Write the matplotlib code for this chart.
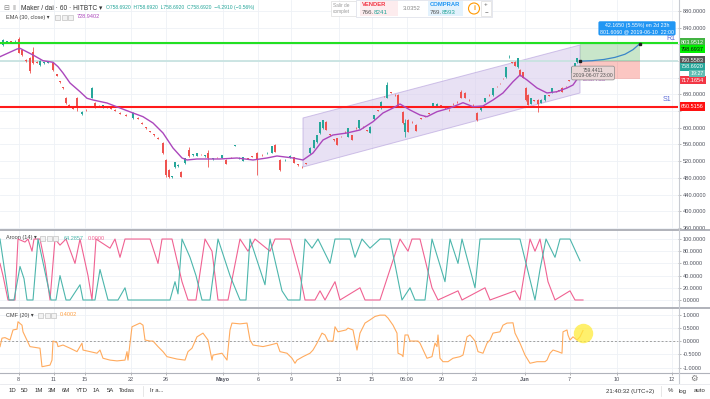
import numpy as np
import matplotlib
matplotlib.use("Agg")
import matplotlib.pyplot as plt
from matplotlib.patches import Polygon, Rectangle, Ellipse
from matplotlib.lines import Line2D
from matplotlib.ticker import FormatStrFormatter, FixedFormatter
from matplotlib.transforms import blended_transform_factory

plt.rcParams['font.family'] = ['Liberation Sans', 'DejaVu Sans']

# =====================================================================
# DONNEES
# =====================================================================
# bougies horaires Maker / dai (indice de barre, prix)
bar_x = [3, 7, 11, 15, 19, 22, 26, 30, 33, 37, 40, 44, 48, 53, 57, 60, 63, 66, 69, 73,
         77, 82, 86, 92, 95, 99, 103, 107, 111, 115, 120, 126, 133, 138, 142, 146, 150, 154, 158, 163,
         166, 169, 172, 175, 178, 181, 185, 189, 193, 197, 201, 205, 208, 213, 217, 222, 226, 231, 235, 239,
         243, 248, 252, 257, 262, 267, 272, 275, 280, 285, 290, 294, 298, 302, 306, 310, 314, 317, 320, 323,
         326, 330, 334, 337, 341, 345, 348, 352, 356, 359, 363, 367, 370, 374, 378, 381, 384, 387, 391, 395,
         398, 403, 405, 408, 412, 416, 421, 425, 429, 433, 437, 441, 445, 449, 453, 457, 461, 465, 469, 473,
         477, 481, 485, 489, 493, 497, 500, 503, 506, 509, 512, 515, 518, 520, 523, 526, 528, 531, 534, 538,
         541, 545, 549, 552, 556, 559, 562, 566, 569, 572, 575, 577, 579]
bar_open = [798, 805, 806, 807, 812, 786, 762, 767, 781, 757, 750, 755, 756, 755, 728, 711, 697, 671, 655, 648,
            671, 632, 643, 672, 659, 652, 649, 650, 648, 643, 636, 631, 623, 624, 612, 601, 592, 584, 576, 563,
            523, 499, 481, 505, 508, 494, 515, 546, 535, 533, 537, 532, 540, 525, 530, 528, 523, 530, 557, 527,
            521, 527, 532, 540, 535, 539, 540, 558, 523, 522, 528, 530, 512, 507, 515, 540, 552, 565, 587, 600,
            614, 584, 572, 575, 580, 590, 578, 582, 600, 599, 602, 594, 588, 620, 642, 647, 676, 671, 684, 679,
            678, 638, 590, 619, 614, 607, 623, 627, 634, 650, 651, 654, 648, 643, 657, 662, 686, 684, 667, 655,
            635, 642, 662, 679, 678, 700, 707, 719, 721, 769, 757, 757, 745, 738, 733, 695, 678, 657, 666, 666,
            660, 666, 678, 683, 688, 690, 695, 700, 714, 731, 743, 757, 760]
bar_high = [812, 807, 807, 809, 817, 788, 764, 770, 793, 759, 762, 757, 758, 757, 729, 713, 698, 673, 657, 649,
            674, 640, 645, 698, 662, 654, 655, 651, 649, 644, 637, 632, 637, 625, 613, 602, 593, 585, 577, 565,
            525, 501, 485, 518, 512, 496, 528, 554, 537, 540, 538, 534, 547, 527, 531, 535, 524, 531, 559, 529,
            530, 528, 533, 542, 536, 541, 557, 560, 525, 524, 534, 531, 513, 508, 516, 553, 571, 583, 614, 619,
            615, 585, 573, 576, 581, 591, 600, 583, 601, 619, 603, 595, 603, 631, 643, 663, 677, 710, 685, 680,
            680, 640, 620, 620, 615, 608, 624, 628, 635, 660, 658, 655, 649, 644, 658, 663, 690, 686, 668, 656,
            637, 648, 672, 680, 696, 701, 708, 720, 746, 773, 758, 760, 768, 740, 734, 697, 680, 672, 667, 668,
            668, 679, 679, 696, 689, 691, 697, 701, 715, 746, 756, 768, 761]
bar_low = [796, 804, 804, 806, 779, 772, 758, 731, 752, 754, 748, 753, 755, 736, 724, 708, 693, 657, 652, 645,
           640, 630, 640, 670, 648, 650, 647, 647, 645, 640, 633, 628, 622, 621, 609, 598, 589, 581, 572, 538,
           482, 480, 480, 503, 506, 481, 513, 530, 533, 532, 535, 530, 506, 523, 528, 527, 512, 528, 556, 526,
           520, 525, 530, 487, 533, 538, 539, 541, 497, 521, 527, 515, 509, 503, 512, 538, 551, 564, 585, 598,
           594, 581, 569, 558, 578, 588, 577, 570, 598, 598, 600, 592, 587, 619, 640, 646, 674, 670, 682, 677,
           649, 610, 578, 589, 612, 591, 621, 625, 632, 649, 650, 652, 646, 641, 655, 660, 670, 670, 665, 653,
           617, 641, 661, 677, 677, 698, 705, 717, 720, 767, 755, 747, 744, 725, 718, 665, 654, 656, 664, 637,
           659, 665, 676, 682, 686, 688, 685, 698, 712, 730, 742, 756, 758]
bar_close = [810, 806, 805, 808, 779, 774, 760, 735, 755, 756, 760, 756, 757, 738, 725, 709, 694, 659, 653, 646,
             648, 638, 642, 695, 650, 651, 654, 648, 646, 641, 634, 629, 636, 622, 610, 599, 590, 582, 573, 540,
             487, 482, 484, 517, 511, 483, 527, 532, 536, 539, 536, 533, 528, 526, 529, 534, 513, 529, 558, 528,
             529, 526, 531, 525, 534, 540, 556, 542, 499, 523, 533, 516, 510, 505, 514, 552, 570, 582, 613, 618,
             595, 583, 570, 559, 579, 589, 599, 571, 599, 618, 601, 593, 602, 630, 641, 662, 675, 702, 683, 678,
             650, 611, 612, 590, 613, 592, 622, 626, 633, 659, 657, 653, 647, 642, 656, 661, 671, 672, 666, 654,
             618, 647, 671, 678, 695, 699, 706, 718, 745, 770, 756, 748, 767, 726, 719, 666, 655, 671, 665, 657,
             667, 678, 677, 695, 687, 689, 686, 699, 713, 745, 755, 767, 758.692]

# EMA 30
ema_x = [0, 17, 20, 33, 43, 53, 58, 63, 70, 80, 87, 93, 107, 120, 133, 143, 153, 163, 173, 182,
         187, 197, 220, 237, 253, 267, 277, 293, 303, 313, 323, 333, 347, 360, 373, 383, 393, 400, 410, 420,
         427, 437, 450, 463, 473, 483, 493, 503, 513, 520, 527, 537, 547, 557, 567, 573, 580]
ema_val = [770.1, 788.5, 790.2, 774.2, 760.5, 756.7, 746.2, 731.1, 707.1, 686.3, 670.5, 666.4, 659.2, 647.2,
           635.3, 626.4, 611.3, 587.4, 551.4, 527.5, 522.7, 525.1, 525.1, 527.5, 522.7, 527.5, 532.3, 527.5,
           522.7, 539.5, 570.6, 582.6, 587.4, 594.6, 614.4, 635.3, 647.2, 656.8, 642.5, 630.5, 626.4, 638.4,
           647.2, 659.9, 650.4, 652.0, 666.4, 683.2, 710.2, 726.3, 714.3, 695.2, 683.2, 686.3, 695.2, 702.3, 726.3]

# canal parallele
channel_x = [303, 580]
channel_top = [623.3, 798.1]
channel_bot = [505.9, 683.2]

# position longue
entry_price = 760.5583
target_price = 803.9512
stop_price = 717.1654
support_price = 650.5156
pos_x = [580, 640]
proj_x = [580, 592, 604, 615, 625, 633, 640]
proj_val = [759.4, 760.5, 763.5, 768.5, 776.0, 787.0, 801.6]

# Aroon (14)
aroon_up_x = [0, 9, 14, 20, 24, 27, 33, 38, 51, 56, 60, 63, 66, 70, 80, 83, 95, 100, 108, 118,
              125, 128, 140, 160, 170, 175, 178, 182, 190, 196, 202, 210, 218, 222, 230, 240, 246, 250, 258, 265,
              270, 282, 288, 300, 305, 312, 318, 330, 335, 350, 355, 362, 370, 380, 390, 402, 410, 415, 425, 432,
              445, 450, 458, 462, 475, 480, 520, 535, 540, 546, 555, 560, 570, 580]
aroon_up = [100, 0, 0, 55, 35, 0, 0, 100, 0, 0, 40, 20, 0, 0, 25, 0, 0, 50, 0, 0,
            20, 0, 0, 0, 0, 30, 10, 100, 70, 40, 0, 0, 100, 80, 40, 0, 0, 100, 60, 25,
            100, 15, 0, 0, 100, 85, 100, 60, 100, 100, 70, 100, 85, 100, 100, 0, 20, 0, 0, 100,
            30, 100, 60, 100, 20, 100, 100, 0, 50, 100, 70, 100, 100, 64.2857]
aroon_dn_x = [0, 3, 8, 15, 18, 25, 28, 32, 34, 40, 45, 50, 55, 60, 66, 75, 80, 88, 92, 96,
              110, 115, 120, 125, 150, 158, 162, 172, 182, 188, 196, 205, 212, 218, 228, 240, 248, 255, 270, 275,
              290, 300, 305, 315, 320, 325, 335, 340, 360, 365, 380, 400, 408, 412, 420, 432, 438, 458, 462, 485,
              490, 515, 520, 530, 535, 540, 548, 555, 570, 575, 583]
aroon_dn = [60, 40, 0, 0, 100, 95, 100, 80, 100, 100, 60, 0, 100, 90, 100, 60, 100, 40, 0, 100,
            85, 100, 70, 100, 100, 60, 100, 100, 30, 0, 0, 100, 80, 0, 0, 100, 80, 100, 80, 100,
            100, 40, 0, 0, 15, 0, 30, 0, 20, 0, 0, 100, 80, 100, 100, 20, 0, 15, 0, 20,
            0, 15, 0, 100, 80, 100, 30, 0, 15, 0, 0]

# CMF (20)
cmf_x = [0, 2, 5, 10, 13, 17, 18, 22, 23, 30, 40, 42, 50, 52, 53, 57, 58, 63, 70, 77,
         82, 83, 90, 97, 100, 103, 110, 117, 125, 127, 128, 130, 132, 140, 143, 145, 150, 153, 158, 163,
         167, 177, 185, 188, 192, 197, 203, 208, 212, 213, 222, 227, 230, 232, 240, 247, 250, 253, 263, 270,
         277, 280, 287, 292, 295, 297, 303, 310, 313, 317, 322, 325, 328, 333, 335, 338, 346, 348, 353, 357,
         360, 365, 370, 375, 380, 385, 388, 393, 397, 398, 402, 403, 405, 408, 410, 418, 420, 427, 432, 435,
         437, 438, 440, 443, 448, 453, 460, 463, 467, 470, 473, 475, 478, 483, 487, 490, 493, 500, 503, 507,
         513, 515, 520, 525, 530, 537, 545, 547, 550, 553, 558, 562, 563, 567, 568, 570, 573, 577, 580, 583]
cmf_val = [-0.21, 0.11, 0.13, 0.04, 0.42, 0.45, 0.73, 0.60, 0.35, -0.21, -0.27, -0.97, -0.91, -0.72, 0.0, -0.06, -0.21, -0.15, -0.27, -0.40,
           -0.08, -0.34, -0.40, -0.46, -0.34, -0.65, -0.72, -0.75, -0.72, -0.40, -0.72, -0.08, 0.54, 0.68, 0.60, 0.04, 0.0, 0.0, -0.21, -0.40,
           -0.59, -0.68, -0.72, -0.40, -0.27, 0.16, 0.30, 0.04, -0.72, -0.53, -0.46, -0.72, 0.42, 0.68, 0.65, 0.68, 0.04, -0.15, -0.21, -0.15,
           -0.08, -0.40, -0.46, -0.65, -0.84, -0.72, -0.59, -0.46, -0.34, -0.08, 0.30, 0.23, 0.0, 0.0, 0.54, 0.35, 0.42, 0.49, 0.42, -0.34,
           0.30, 0.68, 0.80, 0.93, 0.98, 0.98, 0.87, 0.60, 0.30, -0.46, -0.53, -0.59, 0.23, 0.23, 0.0, 0.0, -0.08, -0.65, -0.59, -0.08,
           -0.21, 0.23, -0.65, -0.78, -0.78, -0.65, -0.59, -0.53, 0.16, 0.23, 0.10, 0.0, -0.40, -0.46, -0.08, 0.04, 0.30, 0.35, 0.60, 0.68,
           0.69, 0.30, -0.08, -0.53, -0.84, -0.78, -0.78, -0.72, -0.46, -0.34, -0.40, -0.46, 0.35, 0.42, 0.23, 0.04, 0.16, 0.04, 0.16, 0.40]

# axe du temps
date_pos = [18.6, 53.6, 85, 131, 166, 223, 258, 291, 339, 372, 407, 442, 474.5, 524.5, 569.5, 617, 672]
date_lab = ['8', '11', '15', '22', '26', 'Mayo', '6', '9', '13', '15', '06:00', '20', '23', 'Jun', '7', '10', '12']

# echelle de prix : graduations, et celles cachees par les etiquettes
price_ticks = [360, 400, 440, 480, 520, 560, 600, 640, 680, 720, 760, 800, 840, 880]
price_hidden = [640, 720, 760, 800]
price_tags = ['803.9512', '798.6937', '760.5583', '758.6920', '717.1654', '650.5156']
price_tag_pos = [804.5, 788.0, 761.5, 746.0, 714.0, 650.5]
price_tag_bg = ['#43b343', '#00f000', '#555555', '#26a69a', '#f23645', '#ff1111']
price_tag_fg = ['white', '#111111', 'white', 'white', 'white', 'white']

UP, DN = '#26a69a', '#ef5350'
EMA_C = '#ab47bc'
W, H = 710, 399


def fx(px):
    return px / W


def fy(py):
    return 1 - py / H


# =====================================================================
# FIGURE
# =====================================================================
fig = plt.figure(figsize=(7.1, 3.99), dpi=100)
fig.patch.set_facecolor('white')
XR = 678
ax = fig.add_axes([0, fy(229), fx(XR), 229 / H])
ax_ar = fig.add_axes([0, fy(307), fx(XR), 77 / H])
ax_cmf = fig.add_axes([0, fy(372), fx(XR), 64 / H])


def styliser(a, ylim, yticks):
    a.set_xlim(0, XR)
    a.set_ylim(*ylim)
    for s in a.spines.values():
        s.set_visible(False)
    a.set_xticks(date_pos)
    a.set_yticks(yticks)
    a.yaxis.tick_right()
    a.yaxis.set_major_formatter(FormatStrFormatter('%.4f'))
    a.tick_params(axis='y', labelsize=4, labelcolor='#50535e', color='#9a9a9a',
                  length=2, width=0.5, pad=1.5)
    a.tick_params(axis='x', length=0, labelbottom=False)
    a.grid(True, color='#eef1f6', lw=0.6)
    a.set_axisbelow(True)


styliser(ax, (357.4, 905.9), price_ticks)
ax.yaxis.set_major_formatter(FixedFormatter(
    ['' if v in price_hidden else f'{v:.4f}' for v in price_ticks]))
styliser(ax_ar, (-11.5, 114.8), np.arange(0, 101, 20))
styliser(ax_cmf, (-1.17, 1.25), [-1, -0.5, 0, 0.5, 1])

# ---------------- panneau prix ----------------
ax.add_patch(Polygon([(channel_x[0], channel_top[0]), (channel_x[1], channel_top[1]),
                      (channel_x[1], channel_bot[1]), (channel_x[0], channel_bot[0])],
                     closed=True, fc='#d9cdee', ec='#b39ddb', lw=0.7, alpha=0.6, zorder=1))
ax.axhline(entry_price, color='#c8e3e1', lw=1.3, zorder=1)
ax.axhline(target_price, color='#22e022', lw=1.5, zorder=4)
ax.axhline(support_price, color='#ff1a1a', lw=1.5, zorder=4)

ax.add_patch(Rectangle((pos_x[0], entry_price), pos_x[1] - pos_x[0], target_price - entry_price,
                       fc='#4caf50', alpha=0.3, lw=0, zorder=2))
ax.add_patch(Rectangle((pos_x[0], stop_price), pos_x[1] - pos_x[0], entry_price - stop_price,
                       fc='#f44336', alpha=0.3, lw=0, zorder=2))

bx = np.array(bar_x, dtype=float)
bo, bh = np.array(bar_open), np.array(bar_high)
bl, bc = np.array(bar_low), np.array(bar_close)
cols = np.where(bc >= bo, UP, DN)
ax.vlines(bx, bl, bh, colors=cols, lw=0.6, zorder=3)
ax.bar(bx, np.maximum(np.abs(bc - bo), 1.5), bottom=np.minimum(bo, bc), width=2.0,
       color=cols, lw=0, zorder=3)

ax.plot(ema_x, ema_val, color=EMA_C, lw=1.0, zorder=4)
ax.plot(proj_x, proj_val, color='#3a86c8', lw=0.9, zorder=5)
ax.plot([proj_x[0], proj_x[-1]], [proj_val[0], proj_val[-1]], 's', ms=2, color='#222222', zorder=6)

ax.text(583, 714.3, 'EMA 30', color=EMA_C, fontsize=4.6, va='center', ha='left', zorder=6)
ax.text(666, 813, 'R1', color='#5c6bd6', fontsize=5, va='center', ha='left', zorder=6)
ax.text(663, 668, 'S1', color='#5c6bd6', fontsize=5, va='center', ha='left', zorder=6)
ax.text(593, 731, '759.4411\n2019-06-07 23:00', color='#555555', fontsize=3.6, va='center',
        ha='center', linespacing=1.2, zorder=7,
        bbox=dict(boxstyle='round,pad=0.3', fc='#ead7d7', ec='#8a8a8a', lw=0.5))
ax.text(637, 838, '42.1650 (5.55%) en 2d 23h\n801.6060 @ 2019-06-10  22:00', color='white',
        fontsize=3.8, va='center', ha='center', linespacing=1.25, zorder=7,
        bbox=dict(boxstyle='round,pad=0.3', fc='#2196f3', ec='none'))

tr = blended_transform_factory(ax.transAxes, ax.transData)
for lab, pos, bg, fg in zip(price_tags, price_tag_pos, price_tag_bg, price_tag_fg):
    ax.text(1.004, pos, lab, transform=tr, fontsize=4, color=fg, va='center', ha='left',
            clip_on=False, zorder=8, bbox=dict(boxstyle='square,pad=0.3', fc=bg, ec='none'))
ax.text(1.018, 730.0, '19:27', transform=tr, fontsize=3.8, color='white', va='center', ha='left',
        clip_on=False, zorder=8, bbox=dict(boxstyle='square,pad=0.2', fc='#5fbdb3', ec='none'))

# ---------------- Aroon ----------------
ax_ar.plot(aroon_dn_x, aroon_dn, color='#f06292', lw=0.8)
ax_ar.plot(aroon_up_x, aroon_up, color='#4db6ac', lw=0.8)

# ---------------- CMF ----------------
ax_cmf.axhline(0, color='#a0a0a0', lw=0.7, ls=(0, (2, 2)))
ax_cmf.plot(cmf_x, cmf_val, color='#ffab5e', lw=0.8)
ax_cmf.plot(cmf_x[-1], 0.32, 'o', ms=14, color='#ffeb3b', alpha=0.75, mec='none', zorder=5)
ax_cmf.tick_params(axis='x', length=2, width=0.5, color='#9a9a9a', labelbottom=True,
                   labelsize=4, labelcolor='#50535e', pad=1.5)
ax_cmf.set_xticklabels(date_lab)
for t in ax_cmf.get_xticklabels():
    if t.get_text() in ('Mayo', 'Jun'):
        t.set_fontweight('bold')

# ---------------- cadres ----------------
for yy in (229.5, 307.5):
    fig.add_artist(Line2D([0, 1], [fy(yy), fy(yy)], color='#a3a6ae', lw=1.2))
fig.add_artist(Line2D([0, 1], [fy(372.5), fy(372.5)], color='#b0b3bb', lw=0.8))
fig.add_artist(Line2D([fx(678.5), fx(678.5)], [fy(0), fy(383)], color='#c8cbd2', lw=0.8))
fig.add_artist(Line2D([0, 1], [fy(383.5), fy(383.5)], color='#e6e8ed', lw=0.6))
fig.text(fx(694), fy(378), '\u2699', fontsize=6, color='#777777', ha='center', va='center',
         family=['DejaVu Sans'])

# ---------------- entetes ----------------
fig.text(fx(3), fy(8), '\u229f', fontsize=5, color='#888888', va='center', family=['DejaVu Sans'])
fig.text(fx(12), fy(8), '\u2016', fontsize=5, color='#999999', va='center')
fig.text(fx(21), fy(8), 'Maker / dai \u00b7 60 \u00b7 HITBTC \u25be', fontsize=4.8, color='#333333', va='center')
fig.text(fx(106), fy(8), 'O758.6920  H758.6920  L758.6920  C758.6920  \u22124.2910 (\u22120.56%)',
         fontsize=3.6, color=UP, va='center')
fig.text(fx(6), fy(17), 'EMA (30, close) \u25be', fontsize=4.0, color='#444444', va='center')
fig.text(fx(77), fy(17), '728.9402', fontsize=4.0, color=EMA_C, va='center')


def icones(x0, y0):
    for i in range(3):
        fig.add_artist(Rectangle((fx(x0 + i * 6.5), fy(y0 + 2.5)), 5 / W, 5 / H,
                                 transform=fig.transFigure, fc='#f2f2f2', ec='#b5b5b5', lw=0.4))


icones(55, 17)
fig.text(fx(6), fy(238), 'Aroon (14) \u25be', fontsize=4.0, color='#444444', va='center')
icones(40, 238)
fig.text(fx(64), fy(238), '64.2857', fontsize=4.0, color='#4db6ac', va='center')
fig.text(fx(88), fy(238), '0.0000', fontsize=4.0, color='#f06292', va='center')
fig.text(fx(6), fy(315), 'CMF (20) \u25be', fontsize=4.0, color='#444444', va='center')
icones(38, 315)
fig.text(fx(60), fy(315), '0.4002', fontsize=4.0, color='#ff9f40', va='center')

# widget achat / vente
fig.add_artist(Rectangle((fx(331), fy(16)), 30 / W, 15 / H, transform=fig.transFigure,
                         fc='white', ec='#dddddd', lw=0.5))
fig.text(fx(333), fy(8.5), 'Salir de\ncomplet', fontsize=3.4, color='#9a9a9a', va='center',
         linespacing=1.2)
fig.add_artist(Rectangle((fx(356), fy(17)), 136 / W, 17 / H, transform=fig.transFigure,
                         fc='white', ec='#e0e3eb', lw=0.6))
fig.add_artist(Rectangle((fx(360), fy(16)), 38 / W, 15 / H, transform=fig.transFigure,
                         fc='#fdecee', ec='none'))
fig.add_artist(Rectangle((fx(428), fy(16)), 35 / W, 15 / H, transform=fig.transFigure,
                         fc='#e3f2fd', ec='none'))
fig.text(fx(362), fy(5), 'VENDER', fontsize=4.2, color='#f23645', fontweight='bold', va='center')
fig.text(fx(362), fy(12.5), '766.', fontsize=4.5, color='#555555', va='center')
fig.text(fx(374), fy(12.5), '8241', fontsize=4.5, color='#26a69a', va='center')
fig.text(fx(403), fy(8.5), '3.0352', fontsize=4.2, color='#8a8a8a', va='center')
fig.text(fx(430), fy(5), 'COMPRAR', fontsize=4.2, color='#2196f3', fontweight='bold', va='center')
fig.text(fx(430), fy(12.5), '769.', fontsize=4.5, color='#555555', va='center')
fig.text(fx(442), fy(12.5), '8593', fontsize=4.5, color='#26a69a', va='center')
fig.add_artist(Ellipse((fx(474), fy(8.5)), 11 / W, 11 / H, transform=fig.transFigure,
                       fc='none', ec='#ff9800', lw=0.8))
fig.text(fx(474), fy(8.5), 'i', fontsize=5, color='#ff9800', ha='center', va='center', fontweight='bold')
fig.add_artist(Rectangle((fx(481), fy(16)), 10 / W, 15 / H, transform=fig.transFigure,
                         fc='white', ec='#dddddd', lw=0.5))
fig.text(fx(486), fy(4.5), '+', fontsize=4.5, color='#666666', ha='center', va='center')
fig.text(fx(486), fy(12), '\u2212', fontsize=4.5, color='#666666', ha='center', va='center')

# barre du bas
bas = [('1D', 12), ('5D', 25), ('1M', 39), ('3M', 52), ('6M', 66), ('YTD', 82), ('1A', 96),
       ('5A', 110), ('Todas', 127), ('Ir a...', 157)]
for txt, px in bas:
    fig.text(fx(px), fy(391), txt, fontsize=4.3, color='#333333', ha='center', va='center')
fig.add_artist(Line2D([fx(143), fx(143)], [fy(386), fy(396)], color='#dddddd', lw=0.5))
fig.text(fx(630), fy(391), '21:40:32 (UTC+2)', fontsize=4.3, color='#333333', ha='center', va='center')
fig.add_artist(Line2D([fx(661), fx(661)], [fy(386), fy(396)], color='#dddddd', lw=0.5))
for txt, px in [('%', 670), ('log', 683), ('auto', 700)]:
    fig.text(fx(px), fy(391), txt, fontsize=4.3, color='#333333', ha='center', va='center')

fig.savefig('out.png', dpi=100)
